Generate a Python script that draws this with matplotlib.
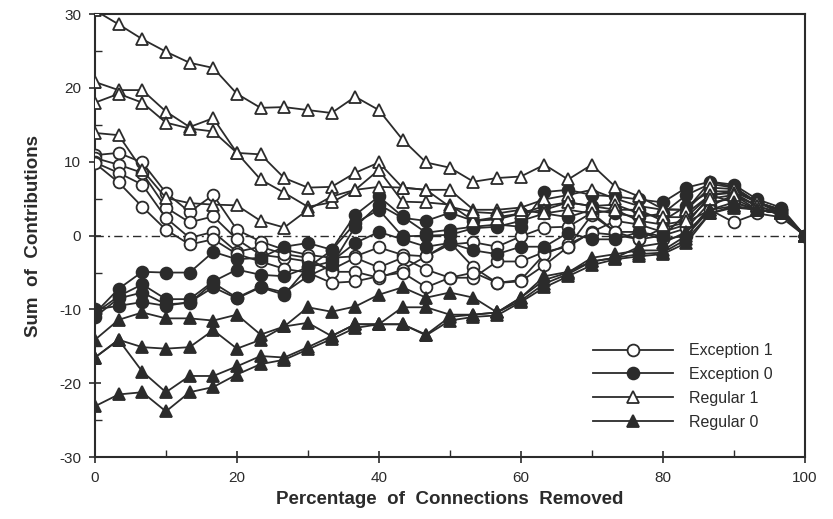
import numpy as np
import matplotlib
matplotlib.use("Agg")
import matplotlib.pyplot as plt

plt.rcParams['font.family'] = ['Liberation Sans', 'DejaVu Sans']
plt.rcParams['axes.unicode_minus'] = False

# percentage of connections removed (31 steps)
x = np.linspace(0, 100, 31)

# Regular 1 (open triangles)
reg1_a = [30.5, 28.6, 26.6, 24.9, 23.4, 22.7, 19.2, 17.3, 17.4, 17.0, 16.6, 18.8, 17.0, 13.0, 9.9, 9.2,
          7.3, 7.8, 8.0, 9.6, 7.6, 9.6, 6.6, 5.3, 3.6, 3.5, 7.3, 6.6, 4.5, 3.3, 0.0]
reg1_b = [20.8, 19.7, 19.7, 16.8, 14.7, 15.9, 11.2, 11.0, 7.8, 6.5, 6.6, 8.5, 9.9, 6.5, 6.2, 6.2,
          3.5, 3.5, 3.8, 4.9, 5.5, 6.2, 5.0, 4.0, 3.5, 3.5, 6.5, 6.3, 4.5, 3.0, 0.0]
reg1_c = [18.0, 19.2, 18.0, 15.3, 14.5, 14.1, 11.2, 7.6, 5.8, 3.9, 4.5, 6.2, 8.9, 4.6, 4.5, 4.2,
          2.0, 2.2, 3.0, 3.5, 4.5, 4.0, 4.2, 3.0, 2.5, 2.5, 5.5, 5.8, 4.0, 3.0, 0.0]
reg1_d = [13.9, 13.6, 8.9, 5.1, 4.4, 4.2, 4.1, 2.0, 1.1, 3.5, 5.3, 6.2, 6.6, 6.5, 6.2, 3.9,
          3.2, 3.0, 3.5, 3.0, 3.5, 3.0, 3.5, 2.0, 1.5, 2.0, 5.0, 5.5, 4.0, 3.0, 0.0]

# Exception 1 (open circles)
exc1_a = [10.9, 11.2, 9.9, 5.8, 3.2, 5.5, 0.8, -0.8, -1.9, -2.6, -3.0, -2.8, -1.6, -2.6, -2.8, -1.2,
          -0.9, -1.5, -0.1, 1.1, 1.2, 3.1, 0.5, 0.5, -0.5, 0.0, 4.0, 5.5, 3.5, 3.0, 0.0]
exc1_b = [10.5, 9.6, 8.5, 3.8, 1.8, 2.6, -0.5, -2.6, -3.0, -3.5, -4.6, -3.0, -4.3, -3.0, -4.6, -5.7,
          -5.7, -3.5, -3.5, -2.2, -1.5, 0.5, 2.0, 1.5, 0.5, 1.5, 5.5, 4.5, 3.5, 3.0, 0.0]
exc1_c = [9.9, 8.5, 6.9, 2.4, -0.3, 0.5, -2.2, -1.5, -2.5, -3.0, -4.9, -4.9, -5.7, -4.6, -2.8, -0.9,
          -4.3, -6.4, -6.0, -2.5, -1.2, 0.4, 0.1, -0.5, 0.0, 1.0, 4.5, 5.0, 3.5, 3.0, 0.0]
exc1_d = [9.8, 7.2, 3.9, 0.8, -1.2, -0.5, -2.5, -3.5, -4.5, -5.0, -6.4, -6.2, -5.5, -5.0, -7.0, -5.7,
          -5.0, -6.4, -6.2, -4.0, -1.5, 2.8, 0.5, -0.5, 1.0, 1.8, 3.5, 1.8, 3.0, 2.5, 0.0]

# Exception 0 (filled circles)
exc0_a = [-10.5, -7.2, -4.9, -5.0, -5.0, -2.2, -3.2, -3.0, -1.5, -1.0, -1.9, 2.8, 5.3, 2.6, 0.4, 0.8,
          1.2, 1.5, 1.2, 5.9, 6.2, 5.5, 5.3, 4.9, 4.5, 6.5, 7.3, 6.9, 4.9, 3.8, 0.0]
exc0_b = [-10.5, -8.2, -6.6, -8.6, -8.6, -6.2, -4.6, -5.3, -5.5, -4.3, -2.0, 1.7, 3.5, -0.1, 0.0, 0.1,
          1.0, 1.2, 2.0, 3.0, 2.5, 3.5, 3.0, 2.5, 3.0, 5.5, 7.0, 6.5, 4.5, 3.5, 0.0]
exc0_c = [-11.0, -8.5, -7.7, -9.3, -9.1, -6.4, -8.4, -6.9, -7.7, -5.5, -4.0, 1.2, 4.2, 2.4, 2.0, 3.1,
          2.0, 2.5, 3.0, 4.0, 4.5, 4.0, 3.5, 3.5, 2.0, 4.0, 6.0, 6.0, 4.5, 3.5, 0.0]
exc0_d = [-10.0, -9.5, -9.0, -9.5, -9.0, -7.0, -8.5, -7.0, -8.0, -4.3, -3.5, -1.0, 0.5, -0.5, -1.5, -1.0,
          -2.0, -2.5, -1.5, -1.5, 0.4, -0.5, -0.5, 0.5, -0.1, 3.0, 5.5, 6.0, 4.5, 3.5, 0.0]

# Regular 0 (filled triangles)
reg0_a = [-14.1, -11.4, -10.4, -11.2, -11.2, -11.5, -10.7, -13.4, -12.3, -9.7, -10.3, -9.6, -8.0, -7.0,
          -8.4, -7.7, -8.4, -10.4, -8.4, -5.5, -4.9, -3.5, -3.0, -1.5, -1.0, 0.5, 3.5, 4.5, 3.5, 3.0, 0.0]
reg0_b = [-16.5, -14.1, -15.1, -15.3, -15.1, -12.8, -15.3, -14.1, -12.3, -11.8, -13.6, -12.0, -12.0,
          -9.7, -9.7, -10.7, -10.7, -10.4, -8.4, -6.0, -5.0, -3.0, -2.5, -2.0, -2.0, 0.0, 3.5, 4.0, 3.5, 3.0, 0.0]
reg0_c = [-16.5, -14.1, -18.4, -21.2, -19.0, -19.0, -17.7, -16.3, -16.5, -15.1, -13.6, -12.0, -12.0,
          -12.0, -13.4, -11.0, -10.7, -10.4, -8.8, -6.5, -5.2, -3.5, -3.0, -2.5, -2.3, -0.5, 3.0, 4.0, 3.5, 3.0, 0.0]
reg0_d = [-23.1, -21.5, -21.2, -23.8, -21.2, -20.5, -18.8, -17.4, -16.8, -15.4, -14.0, -12.5, -12.0,
          -12.0, -13.5, -11.5, -11.0, -10.8, -9.0, -7.0, -5.5, -4.0, -3.2, -2.8, -2.5, -1.0, 3.0, 3.8, 3.5, 3.0, 0.0]

groups = [
    ("Exception 1", "o", "white", [exc1_a, exc1_b, exc1_c, exc1_d]),
    ("Exception 0", "o", "#2b2b2b", [exc0_a, exc0_b, exc0_c, exc0_d]),
    ("Regular 1", "^", "white", [reg1_a, reg1_b, reg1_c, reg1_d]),
    ("Regular 0", "^", "#2b2b2b", [reg0_a, reg0_b, reg0_c, reg0_d]),
]

ink = "#2b2b2b"

fig = plt.figure(figsize=(8.33, 5.19), dpi=100)
ax = fig.add_axes([0.114, 0.119, 0.852, 0.854])

ax.axhline(0, color=ink, lw=1.0, ls=(0, (6, 3, 1.5, 3)), zorder=1)

for name, mk, face, series in groups:
    for k, s in enumerate(series):
        ax.plot(x, s, color=ink, lw=1.3, marker=mk, markersize=8.5,
                markerfacecolor=face, markeredgecolor=ink, markeredgewidth=1.3,
                label=name if k == 0 else None, zorder=3)

ax.set_xlim(0, 100)
ax.set_ylim(-30, 30)
ax.set_xticks([0, 20, 40, 60, 80, 100])
ax.set_xticks([10, 30, 50, 70, 90], minor=True)
ax.set_yticks([-30, -20, -10, 0, 10, 20, 30])
ax.set_yticks([-25, -15, -5, 5, 15, 25], minor=True)
ax.tick_params(which='major', direction='inout', length=8, width=1.2, colors=ink,
               labelsize=11, pad=6)
ax.tick_params(which='minor', direction='in', length=5, width=1.0, colors=ink)
for sp in ax.spines.values():
    sp.set_linewidth(1.5)
    sp.set_color(ink)

ax.set_xlabel("Percentage  of  Connections  Removed", fontsize=13.5, fontweight='bold',
              color=ink, labelpad=4)
ax.set_ylabel("Sum  of  Contributions", fontsize=13.5, fontweight='bold', color=ink, labelpad=12)

leg = ax.legend(loc='lower right', bbox_to_anchor=(0.975, 0.03), frameon=False, fontsize=11.5,
                handlelength=5, handletextpad=1.0, labelspacing=0.55)
for t in leg.get_texts():
    t.set_color(ink)

fig.savefig("out.png", dpi=100)
